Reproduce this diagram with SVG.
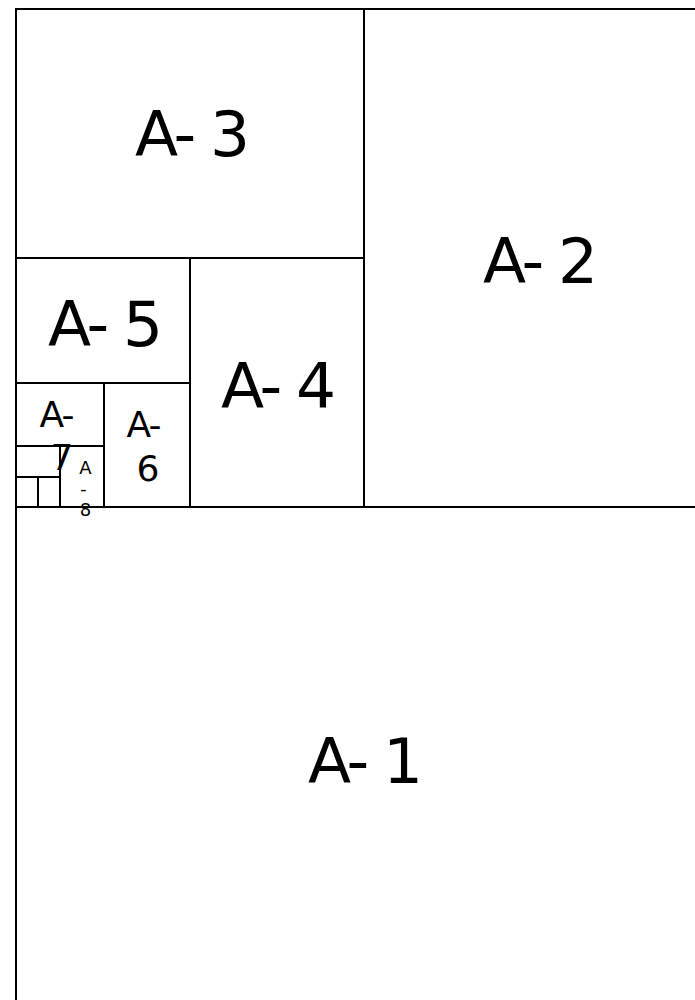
<svg xmlns="http://www.w3.org/2000/svg" width="695" height="1000" viewBox="0 0 695 1000">
<style>
rect{fill:none;stroke:#000;stroke-width:2}
text{font-family:"DejaVu Sans",sans-serif;fill:#000;text-anchor:middle;letter-spacing:-0.05em}
.b{font-size:63px}
.m{font-size:36px}
.s{font-size:18px}
</style>
<rect x="0" y="0" width="695" height="1000" style="fill:#fff;stroke:none"/>
<g id="A-1"><rect x="16" y="507" width="700" height="600"/><text class="b" x="364" y="783">A- 1</text></g>
<g id="A-2"><rect x="364" y="9" width="360" height="498"/><text class="b" x="539" y="283">A- 2</text></g>
<g id="A-3"><rect x="16" y="9" width="348" height="249"/><text class="b" x="191" y="156">A- 3</text></g>
<g id="A-4"><rect x="190" y="258" width="174" height="249"/><text class="b" x="277" y="408">A- 4</text></g>
<g id="A-5"><rect x="16" y="258" width="174" height="125"/><text class="b" x="104" y="346">A- 5</text></g>
<g id="A-6"><rect x="104" y="383" width="86" height="124"/><text class="m" x="143" y="437">A-</text><text class="m" x="147" y="481">6</text></g>
<g id="A-7"><rect x="16" y="383" width="88" height="63"/><text class="m" x="56" y="427">A-</text><text class="m" x="61" y="470">7</text></g>
<g id="A-8"><rect x="60" y="446" width="44" height="61"/><text class="s" x="85" y="474">A</text><text class="s" x="83" y="495">-</text><text class="s" x="85" y="516">8</text></g>
<g id="A-9"><rect x="16" y="446" width="44" height="31"/></g>
<g id="A-10"><rect x="16" y="477" width="22" height="30"/></g>
<g id="A-11"><rect x="38" y="477" width="22" height="30"/></g>
</svg>
